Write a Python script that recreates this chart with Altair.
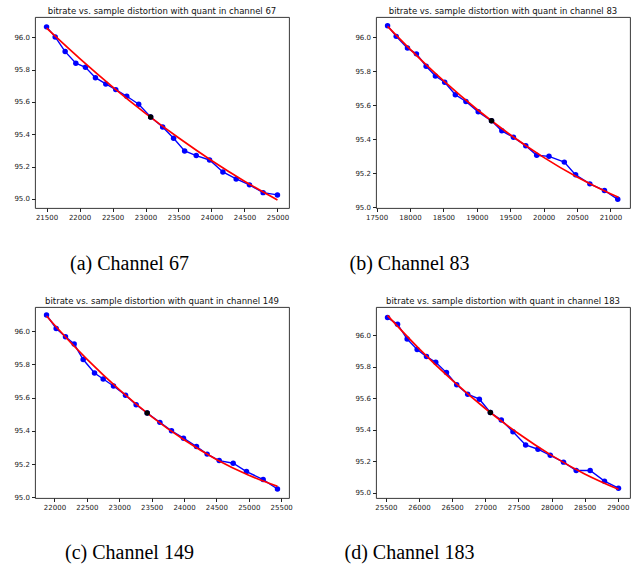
import altair as alt
import pandas as pd

# ---- data ----
ch67_bitrate = [21500, 21631, 21782, 21944, 22090, 22241, 22398, 22549, 22716, 22897, 23078,
                23260, 23426, 23593, 23769, 23971, 24173, 24374, 24576, 24783, 25000]
ch67_dist = [96.064, 96.002, 95.911, 95.839, 95.814, 95.750, 95.711, 95.676, 95.635, 95.586, 95.507,
             95.445, 95.375, 95.297, 95.268, 95.241, 95.167, 95.124, 95.087, 95.039, 95.025]
ch67_fit_x = [21500, 22000, 22500, 23000, 23500, 24000, 24500, 25000]
ch67_fit_y = [96.056, 95.869, 95.693, 95.529, 95.378, 95.238, 95.110, 94.994]

ch83_bitrate = [17664, 17793, 17962, 18096, 18241, 18380, 18519, 18678, 18837, 19021, 19220,
                19374, 19548, 19732, 19896, 20080, 20309, 20478, 20691, 20910, 21109]
ch83_dist = [96.069, 96.006, 95.937, 95.903, 95.830, 95.773, 95.736, 95.663, 95.623, 95.562, 95.509,
             95.450, 95.412, 95.363, 95.306, 95.300, 95.266, 95.191, 95.138, 95.099, 95.047]
ch83_fit_x = [17664, 18000, 18500, 19000, 19500, 20000, 20500, 21000, 21119]
ch83_fit_y = [96.065, 95.931, 95.745, 95.577, 95.427, 95.294, 95.178, 95.080, 95.059]

ch149_bitrate = [21877, 22026, 22170, 22304, 22443, 22618, 22752, 22911, 23097, 23261, 23431,
                 23627, 23807, 23992, 24193, 24357, 24543, 24759, 24965, 25222, 25443]
ch149_dist = [96.097, 96.016, 95.966, 95.922, 95.829, 95.748, 95.712, 95.670, 95.614, 95.557, 95.507,
              95.451, 95.400, 95.356, 95.306, 95.260, 95.221, 95.205, 95.155, 95.107, 95.050]
ch149_fit_x = [21877, 22000, 22500, 23000, 23500, 24000, 24500, 25000, 25443]
ch149_fit_y = [96.091, 96.037, 95.831, 95.648, 95.486, 95.346, 95.228, 95.133, 95.066]

ch183_bitrate = [25525, 25676, 25821, 25972, 26113, 26253, 26414, 26569, 26735, 26911, 27077,
                 27242, 27418, 27609, 27795, 27981, 28181, 28372, 28583, 28799, 29010]
ch183_dist = [96.113, 96.071, 95.976, 95.910, 95.865, 95.829, 95.763, 95.686, 95.626, 95.594, 95.509,
              95.462, 95.387, 95.303, 95.276, 95.237, 95.194, 95.141, 95.141, 95.073, 95.028]
ch183_fit_x = [25525, 26000, 26500, 27000, 27500, 28000, 28500, 29010]
ch183_fit_y = [96.126, 95.916, 95.715, 95.535, 95.376, 95.237, 95.119, 95.021]

ref_index = 10  # the black reference point in each channel

x_ticks_67 = [21500, 22000, 22500, 23000, 23500, 24000, 24500, 25000]
x_ticks_83 = [17500, 18000, 18500, 19000, 19500, 20000, 20500, 21000]
x_ticks_149 = [22000, 22500, 23000, 23500, 24000, 24500, 25000, 25500]
x_ticks_183 = [25500, 26000, 26500, 27000, 27500, 28000, 28500, 29000]
y_ticks = [95.0, 95.2, 95.4, 95.6, 95.8, 96.0]

titles = ["bitrate vs. sample distortion with quant in channel 67",
          "bitrate vs. sample distortion with quant in channel 83",
          "bitrate vs. sample distortion with quant in channel 149",
          "bitrate vs. sample distortion with quant in channel 183"]
captions = ["(a) Channel 67", "(b) Channel 83", "(c) Channel 149", "(d) Channel 183"]

W, H = 254, 191


def panel(bx, dy, fx, fy, xticks, xdom, ydom, title, caption, cap_x, cap_y):
    pts = pd.DataFrame({"bitrate": bx, "distortion": dy})
    fit = pd.DataFrame({"bitrate": fx, "distortion": fy})
    ref = pts.iloc[[ref_index]]
    x = alt.X("bitrate:Q",
              scale=alt.Scale(domain=xdom, nice=False, zero=False),
              axis=alt.Axis(values=xticks, format="d", grid=False, domain=False,
                            tickSize=3.5, tickColor="#222", labelPadding=2,
                            labelFlush=False, labelOverlap=False,
                            labelFont="DejaVu Sans", labelFontSize=7, labelColor="#222",
                            title=caption, titleFont="Liberation Serif", titleFontSize=20,
                            titleFontWeight="normal", titleColor="black",
                            titleX=cap_x, titleY=cap_y, titleAlign="center",
                            titleBaseline="alphabetic"))
    y = alt.Y("distortion:Q",
              scale=alt.Scale(domain=ydom, nice=False, zero=False),
              axis=alt.Axis(values=y_ticks, format=".1f", grid=False, domain=False,
                            tickSize=3.5, tickColor="#222", labelPadding=2,
                            labelFlush=False, labelOverlap=False,
                            labelFont="DejaVu Sans", labelFontSize=7, labelColor="#222",
                            title=None))
    blue_line = alt.Chart(pts).mark_line(color="#0000ff", strokeWidth=1.4).encode(x=x, y=y)
    blue_pts = alt.Chart(pts).mark_circle(color="#0000ff", size=30, opacity=1).encode(x=x, y=y)
    red_line = alt.Chart(fit).mark_line(color="#ff0000", strokeWidth=1.7,
                                        interpolate="monotone").encode(x=x, y=y)
    black_pt = alt.Chart(ref).mark_circle(color="black", size=30, opacity=1).encode(x=x, y=y)
    return alt.layer(blue_line, blue_pts, red_line, black_pt).properties(
        width=W, height=H,
        title=alt.TitleParams(titles[title], font="DejaVu Sans", fontSize=8.5,
                              fontWeight="normal", color="#111", offset=2, anchor="middle"))


p1 = panel(ch67_bitrate, ch67_dist, ch67_fit_x, ch67_fit_y, x_ticks_67,
           [21325, 25175], [94.944, 96.125], 0, captions[0], 94, 61)
p2 = panel(ch83_bitrate, ch83_dist, ch83_fit_x, ch83_fit_y, x_ticks_83,
           [17491, 21292], [94.996, 96.120], 1, captions[1], 33, 61)
p3 = panel(ch149_bitrate, ch149_dist, ch149_fit_x, ch149_fit_y, x_ticks_149,
           [21699, 25621], [94.996, 96.145], 2, captions[2], 94, 60)
p4 = panel(ch183_bitrate, ch183_dist, ch183_fit_x, ch183_fit_y, x_ticks_183,
           [25351, 29184], [94.966, 96.180], 3, captions[3], 33, 60)

chart = alt.concat(p1, p2, p3, p4, columns=2, spacing={"row": 99, "column": 87},
                   bounds="flush").properties(
    padding={"left": 13, "top": 6, "right": 2, "bottom": 2},
    background="white",
).configure_view(stroke="#222", strokeWidth=0.9)

chart.save("out.html", embed_options={"renderer": "svg", "actions": False})
